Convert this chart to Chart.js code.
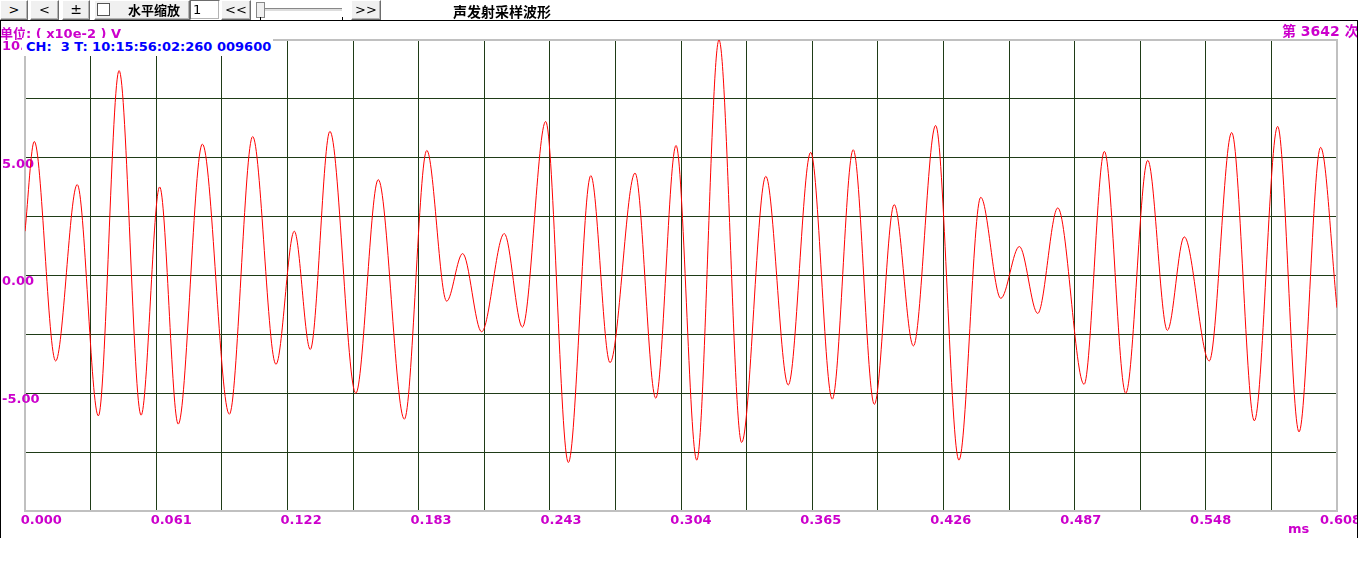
<!DOCTYPE html>
<html>
<head>
<meta charset="utf-8">
<title>声发射采样波形</title>
<script src="https://cdn.jsdelivr.net/npm/chart.js@4.4.1/dist/chart.umd.min.js"></script>
<style>
  html, body { margin: 0; padding: 0; background: #fff; }
  body { position: relative; width: 1358px; height: 577px; overflow: hidden; font-family: "DejaVu Sans", "Noto Sans CJK SC", sans-serif; }
  #wave { position: absolute; left: 0; top: 0; }
  .frame { position: absolute; left: 0; top: 20px; width: 1358px; height: 518px; box-sizing: border-box; border: 1px solid #000; border-bottom: none; z-index: 5; pointer-events: none; }
  .btn { position: absolute; top: 0; height: 20px; box-sizing: border-box; background: #f0f0f0; border: 1px solid; border-color: #fff #6d6d6d #6d6d6d #fff; box-shadow: inset -1px -1px 0 #b4b4b4; font-size: 13px; line-height: 17px; text-align: center; color: #000; }
  .txt { position: absolute; white-space: pre; z-index: 3; }
  .mag { color: #cc00cc; font-weight: bold; }
  .chbox { position: absolute; left: 22px; top: 38px; width: 251px; height: 18px; background: #fff; color: #0000ff; font-weight: bold; font-size: 13px; line-height: 18px; padding-left: 4px; box-sizing: border-box; white-space: pre; z-index: 3; }
</style>
</head>
<body>
<canvas id="wave" width="1358" height="577" style="width:1358px;height:577px"></canvas>

<!-- toolbar -->
<div class="btn" style="left:0;width:28px">&gt;</div>
<div class="btn" style="left:30px;width:29px">&lt;</div>
<div class="btn" style="left:62px;width:28px;font-size:14px;line-height:16px">±</div>
<div class="btn" style="left:94px;width:96px;text-align:left;font-weight:bold;font-family:'Noto Sans CJK SC'">
  <span style="position:absolute;left:2px;top:2px;width:11px;height:11px;border:1px solid #555;background:#fff"></span>
  <span style="position:absolute;left:33px;top:0;line-height:17px">水平缩放</span>
</div>
<div class="btn" style="left:190px;width:30px;background:#fff;border-color:#6d6d6d #fff #fff #6d6d6d;text-align:left;padding-left:2px">1</div>
<div class="btn" style="left:221px;width:30px">&lt;&lt;</div>
<div style="position:absolute;left:260px;top:8px;width:82px;height:2px;border-top:1px solid #888;border-bottom:1px solid #fff;background:#ddd"></div>
<div style="position:absolute;left:256px;top:2px;width:7px;height:14px;background:#f0f0f0;border:1px solid #888"></div>
<div style="position:absolute;left:260px;top:17px;width:1px;height:3px;background:#000"></div>
<div style="position:absolute;left:342px;top:17px;width:1px;height:3px;background:#000"></div>
<div class="btn" style="left:351px;width:30px">&gt;&gt;</div>
<div class="txt" style="left:453px;top:1px;font-size:14px;font-weight:bold;font-family:'Noto Sans CJK SC'">声发射采样波形</div>

<div class="frame"></div>

<div class="txt mag" style="left:0;top:23px;font-size:13px">单位: ( x10e-2 ) V</div>
<div class="txt mag" style="left:1282px;top:20px;font-size:14px">第 3642 次</div>
<div class="chbox">CH:  3 T: 10:15:56:02:260 009600</div>
<div class="txt mag" style="left:1288px;top:521px;font-size:13px">ms</div>

<script>
// sample times (ms) and amplitudes (x10e-2 V), read at the turning points of the trace
const times = [
  0.0000, 0.0043, 0.0142, 0.0242, 0.0340, 0.0436, 0.0538, 0.0624, 0.0710, 0.0822,
  0.0947, 0.1055, 0.1163, 0.1248, 0.1322, 0.1413, 0.1533, 0.1637, 0.1758, 0.1862,
  0.1954, 0.2028, 0.2116, 0.2221, 0.2305, 0.2413, 0.2518, 0.2622, 0.2711, 0.2827,
  0.2923, 0.3017, 0.3113, 0.3216, 0.3321, 0.3433, 0.3537, 0.3641, 0.3741, 0.3838,
  0.3936, 0.4028, 0.4117, 0.4220, 0.4328, 0.4429, 0.4522, 0.4608, 0.4693, 0.4786,
  0.4908, 0.5002, 0.5101, 0.5203, 0.5294, 0.5372, 0.5488, 0.5592, 0.5697, 0.5805,
  0.5904, 0.6004, 0.6080
];
const volts = [
  1.88, 5.69, -3.63, 3.86, -5.96, 8.70, -5.93, 3.76, -6.31, 5.58,
  -5.89, 5.90, -3.77, 1.88, -3.14, 6.12, -5.00, 4.07, -6.10, 5.31,
  -1.09, 0.93, -2.39, 1.78, -2.19, 6.54, -7.94, 4.24, -3.70, 4.35,
  -5.21, 5.52, -7.84, 10.00, -7.09, 4.21, -4.65, 5.23, -5.25, 5.34,
  -5.47, 3.01, -2.99, 6.37, -7.84, 3.32, -0.97, 1.23, -1.61, 2.87,
  -4.62, 5.27, -5.00, 4.89, -2.33, 1.64, -3.63, 6.07, -6.17, 6.33,
  -6.64, 5.44, -1.37
];

// grid divisions and axis labels
const xGridVals = [0, 0.0304, 0.0608, 0.0912, 0.1216, 0.152, 0.1824, 0.2128, 0.2432, 0.2736, 0.304,
                   0.3344, 0.3648, 0.3952, 0.4256, 0.456, 0.4864, 0.5168, 0.5472, 0.5776, 0.608];
const xLabelVals = [0, 0.0608, 0.1216, 0.1824, 0.2432, 0.304, 0.3648, 0.4256, 0.4864, 0.5472, 0.608];
const xTickLabels = ['0.000', '0.061', '0.122', '0.183', '0.243', '0.304', '0.365', '0.426', '0.487', '0.548', '0.608'];
const yLabelVals = [10, 5, 0, -5];
const yTickLabels = ['10.00', '5.00', '0.00', '-5.00'];

const GRID = '#1f3b17';
const FRAME = '#c0c0c0';
const MAGENTA = '#cc00cc';
const labelFont = { family: 'DejaVu Sans', size: 13, weight: 'bold' };

// top and right edges of the plot frame (left/bottom come from the axis borders)
const frameEdges = {
  id: 'frameEdges',
  beforeDatasetsDraw(chart) {
    const { ctx, chartArea: a } = chart;
    ctx.save();
    ctx.strokeStyle = FRAME;
    ctx.lineWidth = 2;
    ctx.beginPath();
    ctx.moveTo(a.left, a.top);
    ctx.lineTo(a.right, a.top);
    ctx.lineTo(a.right, a.bottom);
    ctx.stroke();
    ctx.restore();
  }
};

const noEdgePadding = s => { s.paddingLeft = 0; s.paddingRight = 0; };

new Chart(document.getElementById('wave'), {
  type: 'line',
  data: {
    datasets: [{
      data: times.map((t, i) => ({ x: t, y: volts[i] })),
      borderColor: '#ff0000',
      borderWidth: 1,
      pointRadius: 0,
      cubicInterpolationMode: 'monotone',
      xAxisID: 'x',
      yAxisID: 'y'
    }]
  },
  options: {
    responsive: false,
    animation: false,
    devicePixelRatio: 1,
    layout: { padding: { left: 2, top: 40, right: 21, bottom: 42 } },
    plugins: { legend: { display: false }, tooltip: { enabled: false } },
    scales: {
      x: {
        type: 'linear', position: 'bottom', min: 0, max: 0.608,
        afterBuildTicks: s => { s.ticks = xGridVals.map(v => ({ value: v })); },
        afterFit: s => { s.height = 0; noEdgePadding(s); },
        ticks: { display: false },
        grid: { color: GRID, lineWidth: 1, drawTicks: false },
        border: { color: FRAME, width: 2 }
      },
      // label row: its range is set so each label starts where the original places it
      xl: {
        type: 'linear', position: 'bottom', min: 0.00201, max: 0.61595,
        afterBuildTicks: s => { s.ticks = xLabelVals.map(v => ({ value: v })); },
        afterFit: s => { s.height = 24; noEdgePadding(s); },
        ticks: {
          align: 'start', padding: 2, autoSkip: false, maxRotation: 0,
          color: MAGENTA, font: labelFont,
          callback: (v, i) => xTickLabels[i]
        },
        grid: { display: false, drawTicks: false },
        border: { display: false }
      },
      y: {
        min: -10, max: 10,
        afterFit: s => { s.width = 23; s.paddingTop = 0; s.paddingBottom = 0; },
        ticks: {
          stepSize: 2.5, align: 'start', mirror: true, padding: -23, autoSkip: false,
          color: MAGENTA, font: labelFont,
          callback: v => { const k = yLabelVals.indexOf(v); return k < 0 ? '' : yTickLabels[k]; }
        },
        grid: { color: GRID, lineWidth: 1, drawTicks: false },
        border: { color: FRAME, width: 2 }
      }
    }
  },
  plugins: [frameEdges]
});
</script>
</body>
</html>
